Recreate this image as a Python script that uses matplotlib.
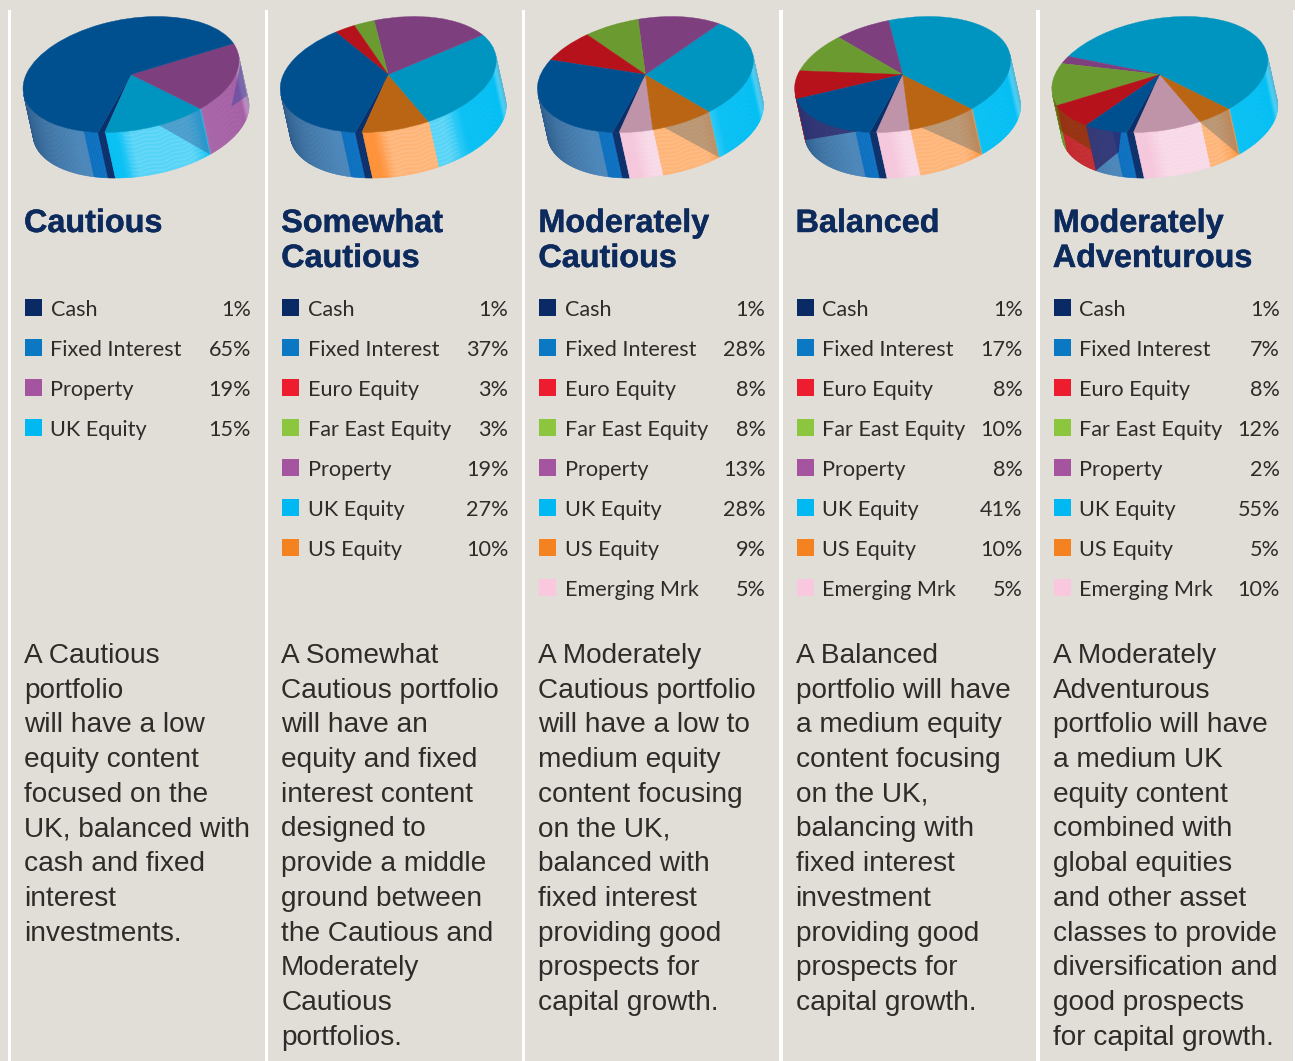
import numpy as np
import matplotlib
matplotlib.use("Agg")
import matplotlib.pyplot as plt
import matplotlib.patheffects as pe
from matplotlib.collections import PolyCollection
from matplotlib.colors import to_rgb
from matplotlib.patches import Polygon, Rectangle
from matplotlib.transforms import Affine2D

# ---- data ----
portfolios = ["Cautious", "Somewhat\nCautious", "Moderately\nCautious", "Balanced", "Moderately\nAdventurous"]
assets = ["Cash", "Fixed Interest", "Euro Equity", "Far East Equity", "Property", "UK Equity", "US Equity", "Emerging Mrk"]
cautious = [1, 65, 0, 0, 19, 15, 0, 0]
somewhat_cautious = [1, 37, 3, 3, 19, 27, 10, 0]
moderately_cautious = [1, 28, 8, 8, 13, 28, 9, 5]
balanced = [1, 17, 8, 10, 8, 41, 10, 5]
moderately_adventurous = [1, 7, 8, 12, 2, 55, 5, 10]
allocations = [cautious, somewhat_cautious, moderately_cautious, balanced, moderately_adventurous]
pie_order = ["Cash", "Emerging Mrk", "US Equity", "UK Equity", "Property", "Far East Equity", "Euro Equity", "Fixed Interest"]
descriptions = [
    ["A Cautious", "portfolio", "will have a low", "equity content", "focused on the", "UK, balanced with",
     "cash and fixed", "interest", "investments."],
    ["A Somewhat", "Cautious portfolio", "will have an", "equity and fixed", "interest content", "designed to",
     "provide a middle", "ground between", "the Cautious and", "Moderately", "Cautious", "portfolios."],
    ["A Moderately", "Cautious portfolio", "will have a low to", "medium equity", "content focusing", "on the UK,",
     "balanced with", "fixed interest", "providing good", "prospects for", "capital growth."],
    ["A Balanced", "portfolio will have", "a medium equity", "content focusing", "on the UK,", "balancing with",
     "fixed interest", "investment", "providing good", "prospects for", "capital growth."],
    ["A Moderately", "Adventurous", "portfolio will have", "a medium UK", "equity content", "combined with",
     "global equities", "and other asset", "classes to provide", "diversification and", "good prospects",
     "for capital growth."],
]

# ---- style ----
BG = "#e1ddd7"
INK = "#2f2b29"
NAVY = "#0c2a5c"
legend_col = dict(zip(assets, ["#0a2a66", "#0b78c4", "#ed1c2e", "#8cc63f", "#a5559f", "#00b9f2", "#f58220", "#f9c8de"]))
top_col = dict(zip(assets, ["#0a2f6b", "#004f8f", "#b5121b", "#6b9a30", "#7e3f7e", "#0094c0", "#b96513", "#bf93a8"]))
wall_col = dict(zip(assets, ["#0a2f6b", "#0a6fc0", "#c42a30", "#6b9a30", "#a55fa5", "#00bff5", "#ff8f33", "#f6c6dc"]))
no_shade = {"Cash"}
LEGEND_FONT = ["Lato", "DejaVu Sans"]

COL_STEP = 257.2
A, C, D = 108.0, 14.0, 56.3       # ellipse shape
CX, CY = 131.0, 74.5
DEPTH = np.array([10.0, 45.5])
START = 252.3
VIS0, VIS1 = 186.3, 366.3

HL_T = [186, 244, 262, 270, 300, 312, 345, 352, 367]
HL_V = [0.0, 0.0, 0.03, 0.33, 0.33, 0.03, 0.0, 0.3, 0.3]

# triangular reflections on the wall: (t, depth fraction) vertices, colour, alpha
overlays = [
    [([(285, 0), (309.6, 0), (309.6, 1)], "#3a5f9a", .45),
     ([(333, .42), (360, .78), (366, .2)], "#4a4aa0", .55)],
    [],
    [([(280, 0), (306, 0), (306, 1)], "#7a7a70", .5)],
    [([(280, 0), (309.6, 0), (309.6, 1)], "#7a7a70", .5),
     ([(186.3, 0), (186.3, 1), (245, 0)], "#2e1f62", .72)],
    [([(291.6, 0), (309.6, 0), (309.6, 1)], "#7a7a70", .5),
     ([(186.3, 0), (186.3, .8), (226.8, .55), (226.8, 0)], "#7a3a00", .6),
     ([(226.8, 0), (226.8, 1), (245, .45), (249, 0)], "#2e1f62", .72)],
]


def mix(c, other, f):
    return tuple((1 - f) * np.array(to_rgb(c)) + f * np.array(to_rgb(other)))


def wall_color(asset, t):
    if asset in no_shade:
        return to_rgb(wall_col[asset])
    if asset == "Fixed Interest" and t < 244:
        f = np.clip((t - 186) / 54, 0, 1)
        return mix("#2c5a88", "#4a86ba", f)
    c = mix(wall_col[asset], "white", np.interp(t, HL_T, HL_V))
    if t > 350:
        c = mix(c, "#6a8a9a", (t - 350) / 16 * .35)
    return c


def rim(t, ox):
    r = np.radians(t)
    return np.array([CX + ox + A * np.cos(r), CY - C * np.cos(r) - D * np.sin(r)])


plt.rcParams["font.family"] = ["Liberation Sans", "DejaVu Sans"]
fig = plt.figure(figsize=(12.95, 10.61), dpi=100, facecolor=BG)
ax = fig.add_axes([0, 0, 1, 1])

for k, (name, vals, desc) in enumerate(zip(portfolios, allocations, descriptions)):
    ox = k * COL_STEP
    data = dict(zip(assets, vals))
    slices = [a for a in pie_order if data[a] > 0]
    sizes = [data[a] for a in slices]

    # side wall
    edges = START + np.concatenate([[0], np.cumsum(sizes)]) * 3.6
    ts = np.arange(VIS0, VIS1, 1.0)
    quads, cols = [], []
    for t in ts:
        mid = t + 0.5
        m = mid if mid >= edges[0] else mid + 360
        idx = np.searchsorted(edges, m) - 1
        p0, p1 = rim(t, ox), rim(t + 1, ox)
        quads.append([p0, p1, p1 + DEPTH, p0 + DEPTH])
        cols.append(wall_color(slices[idx], mid))
    ax.add_collection(PolyCollection(quads, facecolors=cols, edgecolors=cols, linewidths=0.4, zorder=1))

    # wavy moire of the glossy zone on the wall
    wt = np.arange(266, 306, 1.0)
    for f0 in np.arange(0.08, 0.98, 0.085):
        wf = f0 + 0.02 * np.sin((wt - 266) / 40 * 6 * np.pi)
        pts = np.array([rim(t, ox) + f * DEPTH for t, f in zip(wt, wf)])
        ax.plot(pts[:, 0], pts[:, 1], color="#ffffff", alpha=0.10, lw=1.3, zorder=1.5)

    for verts, col, alpha in overlays[k]:
        pts = [rim(t, ox) + f * DEPTH for t, f in verts]
        ax.add_patch(Polygon(pts, closed=True, facecolor=col, alpha=alpha, edgecolor="none", zorder=2))

    # top face
    wedges, _ = ax.pie(sizes, colors=[top_col[a] for a in slices], startangle=START, counterclock=True,
                       wedgeprops=dict(linewidth=0.3))
    skew = Affine2D.from_values(A, -C, 0, -D, CX + ox, CY)
    for w, a in zip(wedges, slices):
        w.set_edgecolor(top_col[a])
        w.set_zorder(3)
        w.set_transform(skew + ax.transData)

    # title
    for j, line in enumerate(name.split("\n")):
        ax.text(24 + ox, 232 + j * 35, line, fontsize=23.3, fontweight="bold", color=NAVY, ha="left", va="baseline",
                path_effects=[pe.withStroke(linewidth=0.3, foreground=NAVY)])

    # legend table
    rows = [a for a in assets if data[a] > 0]
    for j, a in enumerate(rows):
        y = 316 + j * 40
        ax.add_patch(Rectangle((25 + ox, y - 17), 17, 17, facecolor=legend_col[a], edgecolor="none", zorder=3))
        ax.text(50.5 + ox, y, a, fontsize=15.6, family=LEGEND_FONT, color=INK, ha="left", va="baseline")
        ax.text(251 + ox, y, f"{data[a]}%", fontsize=15.6, family=LEGEND_FONT, color=INK,
                ha="right", va="baseline")

    # body
    for j, line in enumerate(desc):
        ax.text(24 + ox, 663 + j * 34.7, line, fontsize=20.2, color=INK, ha="left", va="baseline")

# white separators
for x0, x1 in [(8, 11), (265, 268), (522, 525), (779, 783), (1036, 1040), (1293, 1295)]:
    ax.add_patch(Rectangle((x0, 10), x1 - x0, 1061, facecolor="white", edgecolor="none", zorder=4))

ax.set_aspect("auto")
ax.set_xlim(0, 1295)
ax.set_ylim(1061, 0)
ax.axis("off")
fig.savefig("out.png", dpi=100, facecolor=BG)
